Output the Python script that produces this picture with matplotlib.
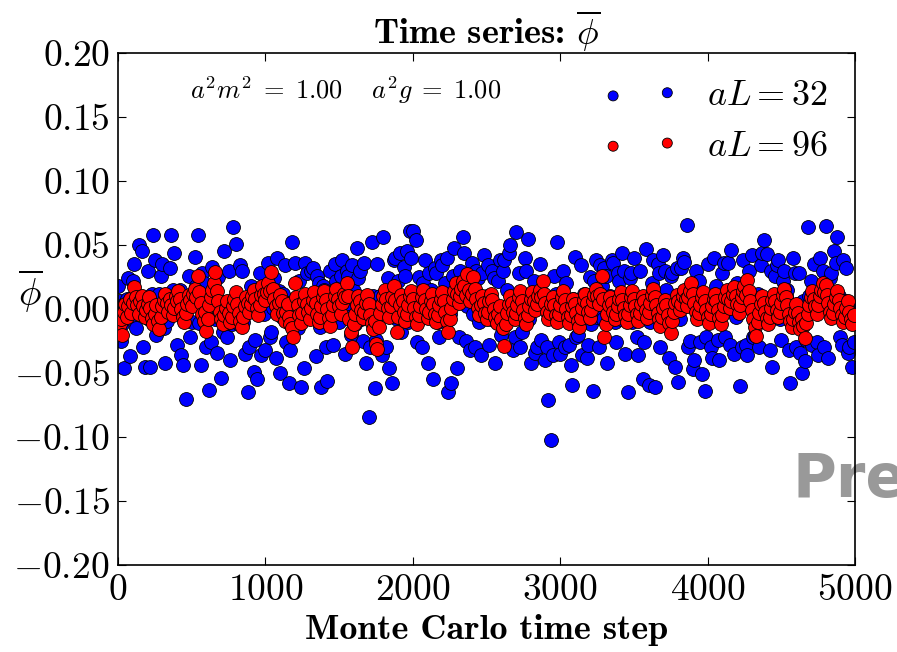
import numpy as np
import matplotlib
matplotlib.use("Agg")
import matplotlib.pyplot as plt

plt.rcParams['font.family'] = 'serif'
plt.rcParams['font.serif'] = ['cmr10']
plt.rcParams['mathtext.fontset'] = 'cm'
plt.rcParams['axes.formatter.use_mathtext'] = True
plt.rcParams['axes.unicode_minus'] = True

# phi-bar values in units of 1e-3, aL = 32 sampled every 10 steps
phi_L32 = [
    18, 6, -25, -12, -46, 5, 8, 24, -37, -8, 22, 35, -15, 10, 50, 3, 45, -30, -45, -6,
    30, -8, -45, 12, 58, 38, -20, -4, 12, 26, 35, -15, -42, -9, 5, 32, 58, 15, 44, -3,
    -28, 12, 15, -36, -44, -2, -70, 9, 26, -22, -10, 4, 41, 18, 58, -11, -44, 28, 20, -7,
    -30, 4, -63, -26, 33, 10, -8, -34, 25, 6, -54, -18, 45, 2, -22, 30, -40, -12, 64, -5,
    51, -8, -12, 34, 30, -10, -35, 6, -65, -30, 18, 3, -49, -24, -55, 12, 28, -36, 10, -4,
    -32, 8, 36, -22, -18, 1, 24, -38, 40, 14, -50, -6, 12, 34, -26, 5, -58, -32, 52, -9,
    36, -8, -15, 22, -61, -3, -46, 36, 28, 10, 8, 30, 32, -5, -37, 26, 20, -14, -61, 18,
    15, -30, -56, 8, 30, -4, -28, 35, 22, -8, -10, 26, 38, 2, -35, 30, 26, -6, -20, 34,
    14, -12, 48, 24, 30, -8, -25, 36, -42, 2, -84, -30, 52, 10, -62, -24, 35, 8, 10, -36,
    56, 10, -30, 24, -46, -2, -58, 38, 40, -8, 22, 44, -18, -4, 33, 26, 45, -10, 61, 40,
    61, 5, 54, -26, 25, 12, -30, 20, 38, -6, -42, 28, 15, -4, -55, 32, 28, -10, -22, 38,
    34, -8, 20, 40, -65, -4, -58, 26, 48, 10, -46, -22, 30, 6, 56, 44, -25, 2, 18, -32,
    36, -4, -30, 30, 24, -10, -36, 28, 42, -2, 10, 34, -28, -8, 30, 24, -42, -10, 22, 38,
    -20, 30, 38, -6, 15, 44, 50, 4, -32, -22, 60, 8, 28, -30, -18, 12, 40, 30, 55, -8,
    -42, 6, 22, -34, -30, 10, 35, -24, 12, 6, -40, -30, -71, 2, -102, -36, 26, 12, 52, -26,
    -35, 4, 30, -30, 20, 6, -28, -44, -59, 8, 41, -22, -20, 2, 34, -36, 12, 6, -38, -28,
    25, -12, -64, 22, 38, -6, -30, 34, 18, -8, 32, 26, -42, -4, 10, 38, 36, -10, -26, 28,
    22, -8, 44, 30, -35, -2, -65, 24, 28, -10, 40, 6, -22, -36, 30, 2, -55, -26, 47, 4,
    -59, -10, 20, 38, -61, -4, 35, 28, -30, -10, 42, 30, 15, -8, -38, 26, 28, -4, -45, 32,
    -57, -8, 32, 40, 37, 4, 66, -30, -25, 6, -47, -40, 30, 8, 22, -26, -51, 4, -64, -22,
    35, 6, -30, -38, 40, 10, 18, -24, -40, -2, 28, 36, -22, 2, 36, -28, 46, 12, -35, -6,
    20, 4, -60, -30, 38, 4, -28, -36, 30, 8, 42, -22, -20, 8, 12, -30, 34, 44, 54, 6,
    43, -6, -32, 30, -45, -6, 26, 34, 38, -8, -24, 22, 30, 10, 15, -32, -58, -8, 40, 28,
    -30, 4, 28, -34, -50, 6, -41, -24, 64, 10, 22, -28, 35, 2, -26, -36, 40, 6, 30, -30,
    65, 10, -38, 24, 28, -2, 45, 36, 56, 10, -22, -28, 38, 6, 32, -34, -30, 2, -45, -26,
]

# aL = 96 sampled every 10 steps
phi_L96 = [
    -5, -12, -8, -20, -2, 4, -6, 2, 8, -3, 5, 17, 9, 3, -4, 6, 10, 2, -6, -1,
    4, 9, 1, -7, -12, -4, 3, -9, -16, -6, 2, 7, 12, 5, -2, 8, 3, -5, 1, 10,
    6, 14, 8, 0, -6, -10, -3, 4, 11, 7, 2, 12, 16, 9, 26, 13, 5, -4, -9, -2,
    -17, -8, 3, 9, 15, 20, 29, 14, 6, -2, -8, -12, -5, 1, 6, -3, -10, -6, 2, 8,
    13, 4, -3, -9, -14, -6, 2, 9, 5, -2, 4, 10, 15, 8, 1, -5, 3, 11, 18, 12,
    7, 13, 20, 14, 29, 16, 8, 2, -4, 5, 11, 6, -3, -9, -2, 4, -6, -12, -15, -22,
    20, 9, 3, -5, -11, -3, 6, 12, 4, -2, -8, 1, 7, 13, 5, -4, -10, -6, 2, 9,
    14, 7, 0, -7, -13, -5, 3, 10, 16, 8, 2, -4, 5, 12, 9, 20, 10, -8, -18, -30,
    -12, -4, 3, 10, 6, -1, -7, -2, 5, 11, 4, -5, -11, -16, -9, -27, -31, -14, -3, 4,
    10, 15, 8, 1, -6, 2, 9, 18, 7, -18, -6, 3, 11, 6, -2, -9, -4, 3, 10, 14,
    8, 1, -6, -12, -5, 2, 9, 15, 7, 0, -7, -2, 6, 12, 4, -4, -10, -5, 3, 8,
    13, 6, -2, -9, -18, -8, 1, 8, 14, 20, 12, 5, 10, 16, 22, 18, 11, 27, 15, 6,
    12, 25, 16, 8, 1, -5, 3, 10, 5, -3, -8, -2, 6, 12, 7, 0, -6, -11, -4, 2,
    -8, -15, -29, -12, -3, 4, 10, 5, -2, -8, -3, 3, 9, 14, 6, -1, -7, -12, -5, 2,
    8, 13, 6, -1, 4, 10, 15, 9, 22, 12, 5, -2, -8, -3, 4, 9, 3, -5, -10, -4,
    3, 9, 14, 7, 0, -6, -11, -5, 2, 8, 4, -3, -9, -14, -7, 1, 7, 12, 5, -2,
    -7, -1, 6, 11, 16, 10, 4, 12, 26, 8, -22, -12, -4, 3, 9, 5, -2, -8, -4, 2,
    8, 13, 7, 1, -5, -10, -4, 3, 9, 14, 8, 2, -4, -9, -3, 4, 10, 6, -1, -7,
    -2, 5, 11, 16, 9, 3, -3, -8, -13, -6, 1, 7, 3, -5, -11, -19, -9, -2, 5, 11,
    6, -1, 4, 10, 15, 8, 2, 9, 14, 20, 12, 5, -2, -8, -3, 3, 9, 13, 6, -1,
    -6, -11, -4, 2, 8, 12, 6, -1, -7, -12, -5, 2, 9, 15, 8, 1, 6, 12, 17, 10,
    4, -3, 3, 9, 14, 18, 11, 23, 14, 6, -1, -8, -14, -21, -10, -3, 4, 10, 5, -2,
    -7, -12, -6, 1, 7, 12, 6, -1, -6, -2, 5, 11, 16, 9, 3, -4, -9, -14, -8, -2,
    4, -3, -10, -16, -8, -13, -23, -11, -4, 3, 9, 14, 8, 2, -4, 3, 10, 15, 20, 13,
    19, 11, 5, -2, -7, -3, 4, 9, 14, 7, 1, -5, -10, -6, 1, 6, -2, -8, -12, -5,
]

y32 = np.array(phi_L32) / 1000.0
y96 = np.array(phi_L96) / 1000.0
x32 = np.arange(len(y32)) * 10
x96 = np.arange(len(y96)) * 10

fig = plt.figure(figsize=(8.97, 6.52), dpi=100)
ax = fig.add_axes([0.1316, 0.1334, 0.8216, 0.7853])
ax.patch.set_facecolor('none')

ax.scatter(x32, y32, s=100, c='#0000ff', edgecolors='black', linewidths=0.6,
           label=r'$aL = 32$', zorder=2)
ax.scatter(x96, y96, s=100, c='#ff0000', edgecolors='black', linewidths=0.6,
           label=r'$aL = 96$', zorder=3)

ax.set_xlim(0, 5000)
ax.set_ylim(-0.2, 0.2)
ax.set_xticks([0, 1000, 2000, 3000, 4000, 5000])
ax.set_yticks(np.arange(-0.2, 0.2001, 0.05))
ax.yaxis.set_major_formatter(matplotlib.ticker.FuncFormatter(
    lambda v, p: r'$%s$' % ('%.2f' % (0.0 if abs(v) < 1e-9 else v))))
ax.tick_params(direction='in', length=6, width=0.8, top=True, right=True,
               labelsize=27, pad=6)
for sp in ax.spines.values():
    sp.set_linewidth(1.2)

ax.set_title(r'Time series: $\overline{\phi}$', fontsize=26, family='cmb10', pad=6)
ax.set_xlabel('Monte Carlo time step', fontsize=26, family='cmb10', labelpad=5)
ax.set_ylabel(r'$\overline{\phi}$', fontsize=27, rotation=0, ha='center', va='center')
ax.yaxis.set_label_coords(-0.119, 0.535)

ax.text(0.098, 0.928, r'$a^2m^2\;=\;1.00 \quad\; a^2g\;=\;1.00$', transform=ax.transAxes,
        fontsize=19, ha='left', va='center')

leg = ax.legend(loc='upper right', frameon=False, scatterpoints=2, fontsize=26,
                markerscale=0.72, handlelength=2.1, handletextpad=0.8,
                labelspacing=0.5, borderaxespad=0.55, borderpad=0.2)

fig.text(792 / 897, 1 - 497 / 652, 'Pre', fontsize=43, fontweight='bold',
         color='#999999', family='DejaVu Sans', zorder=-1)

fig.savefig('out.png', dpi=100)
